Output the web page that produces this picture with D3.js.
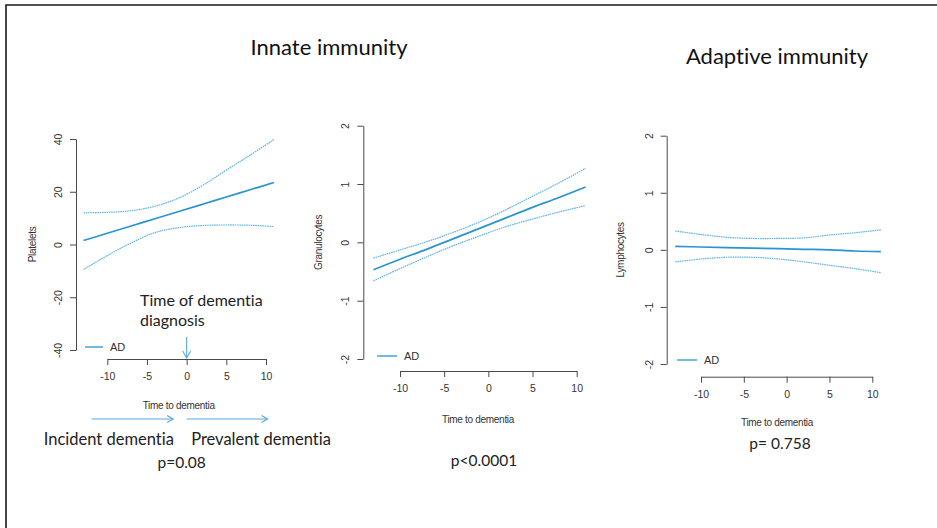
<!DOCTYPE html>
<html>
<head>
<meta charset="utf-8">
<script src="https://cdn.jsdelivr.net/npm/d3@7"></script>
<style>
  body { margin: 0; background: #fff; }
  svg { display: block; }
  .cal { font-variant-ligatures: none; font-feature-settings: "liga" 0, "clig" 0; }
</style>
</head>
<body>
<svg id="chart" width="937" height="528"></svg>
<script>
// ---- data -------------------------------------------------------------
const timeGrid = [-13, -10, -7, -4, -1, 2, 5, 8, 11];
const xTicks = [-10, -5, 0, 5, 10];
const plateletTicks = [-40, -20, 0, 20, 40];
const cellTicks = [-2, -1, 0, 1, 2];

const plateletFit   = [1.5, 4.25, 7.0, 9.75, 12.5, 15.25, 18.0, 20.75, 23.5];
const plateletUpper = [12.0, 12.2, 12.8, 14.5, 17.6, 22.4, 28.2, 33.9, 39.8];
const plateletLower = [-9.5, -4.2, 0.6, 4.5, 6.4, 7.2, 7.4, 7.3, 6.8];

const granuloFit   = [-0.47, -0.29, -0.12, 0.06, 0.24, 0.42, 0.60, 0.77, 0.95];
const granuloUpper = [-0.27, -0.13, 0.01, 0.17, 0.35, 0.56, 0.79, 1.02, 1.27];
const granuloLower = [-0.66, -0.45, -0.25, -0.06, 0.11, 0.27, 0.40, 0.52, 0.63];

const lymphoFit   = [0.06, 0.05, 0.04, 0.03, 0.02, 0.01, 0.0, -0.02, -0.03];
const lymphoUpper = [0.33, 0.27, 0.22, 0.20, 0.20, 0.21, 0.26, 0.30, 0.35];
const lymphoLower = [-0.21, -0.16, -0.13, -0.13, -0.16, -0.21, -0.27, -0.33, -0.40];

const yLabels = ["Platelets", "Granulocytes", "Lymphocytes"];
const pValues = ["p=0.08", "p<0.0001", "p= 0.758"];
const groupTitles = ["Innate immunity", "Adaptive immunity"];
const xLabel = "Time to dementia";
const legendLabel = "AD";

// ---- layout -----------------------------------------------------------
const panels = [
  { fit: plateletFit, up: plateletUpper, lo: plateletLower, yTicks: plateletTicks, label: yLabels[0], p: pValues[0],
    xr: [107.3, 266], yr: [350, 139], axisX: 76, axisY: 359, ylabX: 32, xlabX: 178.7, xlabY: 405,
    leg: { x1: 85, x2: 103, y: 347 }, pPos: { x: 181.7, y: 462 } },
  { fit: granuloFit, up: granuloUpper, lo: granuloLower, yTicks: cellTicks, label: yLabels[1], p: pValues[1],
    xr: [400, 576.7], yr: [359, 125.7], axisX: 363.3, axisY: 371, ylabX: 318, xlabX: 478, xlabY: 419,
    leg: { x1: 377, x2: 397, y: 356 }, pPos: { x: 484, y: 460 } },
  { fit: lymphoFit, up: lymphoUpper, lo: lymphoLower, yTicks: cellTicks, label: yLabels[2], p: pValues[2],
    xr: [701, 872.3], yr: [364, 135.7], axisX: 666.7, axisY: 376.7, ylabX: 620, xlabX: 777, xlabY: 422,
    leg: { x1: 677, x2: 697, y: 360 }, pPos: { x: 780, y: 443 } }
];

const fitColor = "#2a93d2";
const ciColor = "#62b3e4";
const axisColor = "#4a4a4a";
const textColor = "#333";
const rFont = "'Liberation Sans', Arial, sans-serif";
const calFont = "Lato, 'Open Sans', sans-serif";
const plain = d => String(d);

const svg = d3.select("#chart");
svg.append("rect").attr("width", 937).attr("height", 528).attr("fill", "#fff");

// frame (top and left edges)
svg.append("path").attr("d", "M6,528V5H937").attr("fill", "none")
  .attr("stroke", "#1a1a1a").attr("stroke-width", 1.6);

const panelScales = [];

panels.forEach(pn => {
  const x = d3.scaleLinear().domain([-10, 10]).range(pn.xr);
  const y = d3.scaleLinear().domain([d3.min(pn.yTicks), d3.max(pn.yTicks)]).range(pn.yr);
  panelScales.push({ x, y });
  const g = svg.append("g");

  // x axis
  const xa = g.append("g").attr("transform", `translate(0,${pn.axisY})`)
    .call(d3.axisBottom(x).tickValues(xTicks).tickFormat(plain).tickSize(6).tickSizeOuter(0).tickPadding(8));
  xa.selectAll("path,line").attr("stroke", axisColor);
  xa.selectAll("text").attr("font-family", rFont).attr("font-size", 10.5).attr("fill", textColor);

  // y axis with labels parallel to the axis
  const ya = g.append("g").attr("transform", `translate(${pn.axisX},0)`)
    .call(d3.axisLeft(y).tickValues(pn.yTicks).tickFormat(plain).tickSize(6).tickSizeOuter(0));
  ya.selectAll("path,line").attr("stroke", axisColor);
  ya.selectAll("text")
    .attr("x", null).attr("dy", null)
    .attr("text-anchor", "middle")
    .attr("dominant-baseline", "central")
    .attr("transform", "translate(-18,0) rotate(-90)")
    .attr("font-family", rFont).attr("font-size", 10.5).attr("fill", textColor);

  // axis titles
  g.append("text").attr("x", pn.xlabX).attr("y", pn.xlabY)
    .attr("text-anchor", "middle").attr("dominant-baseline", "central")
    .attr("font-family", rFont).attr("font-size", 10).attr("letter-spacing", -0.3)
    .attr("fill", textColor).text(xLabel);
  g.append("text")
    .attr("transform", `translate(${pn.ylabX},${y(0)}) rotate(-90)`)
    .attr("text-anchor", "middle").attr("dominant-baseline", "central")
    .attr("font-family", rFont).attr("font-size", 10).attr("letter-spacing", -0.3)
    .attr("fill", textColor).text(pn.label);

  // fitted trajectory with confidence band edges
  const line = d3.line().x((d, i) => x(timeGrid[i])).y(d => y(d)).curve(d3.curveCatmullRom.alpha(0.5));
  [pn.up, pn.lo].forEach(arr => {
    g.append("path").attr("d", line(arr)).attr("fill", "none")
      .attr("stroke", ciColor).attr("stroke-width", 1.2).attr("stroke-dasharray", "1.6,0.7");
  });
  g.append("path").attr("d", line(pn.fit)).attr("fill", "none")
    .attr("stroke", fitColor).attr("stroke-width", 1.7);

  // legend
  g.append("line").attr("x1", pn.leg.x1).attr("x2", pn.leg.x2).attr("y1", pn.leg.y).attr("y2", pn.leg.y)
    .attr("stroke", fitColor).attr("stroke-width", 1.3);
  g.append("text").attr("x", pn.leg.x2 + 7).attr("y", pn.leg.y)
    .attr("dominant-baseline", "central")
    .attr("font-family", rFont).attr("font-size", 11).attr("fill", textColor).text(legendLabel);

  // p-value
  svg.append("text").attr("class", "cal").attr("x", pn.pPos.x).attr("y", pn.pPos.y)
    .attr("text-anchor", "middle").attr("dominant-baseline", "central")
    .attr("font-family", calFont).attr("font-size", 15.5).attr("fill", "#222").text(pn.p);
});

// group titles
svg.append("text").attr("class", "cal").attr("x", 329).attr("y", 46).attr("text-anchor", "middle")
  .attr("dominant-baseline", "central").attr("font-family", calFont).attr("font-size", 22)
  .attr("fill", "#111").text(groupTitles[0]);
svg.append("text").attr("class", "cal").attr("x", 777).attr("y", 55).attr("text-anchor", "middle")
  .attr("dominant-baseline", "central").attr("font-family", calFont).attr("font-size", 22)
  .attr("fill", "#111").text(groupTitles[1]);

// diagnosis marker and incident/prevalent arrows on the platelet panel
const px = panelScales[0].x;
const arrowColor = "#5aa7db";
const ann = svg.append("g").attr("stroke", arrowColor).attr("stroke-width", 1.1).attr("fill", "none");
ann.append("line").attr("x1", px(0)).attr("x2", px(0)).attr("y1", 337).attr("y2", 358);
ann.append("path").attr("d", `M${px(0) - 4},351L${px(0)},358L${px(0) + 4},351`);

function hArrow(x1, x2, yy) {
  ann.append("line").attr("x1", x1).attr("x2", x2).attr("y1", yy).attr("y2", yy);
  ann.append("path").attr("d", `M${x2 - 6},${yy - 3.5}L${x2},${yy}L${x2 - 6},${yy + 3.5}`);
}
hArrow(px(-12), px(-1.7), 419);
hArrow(px(0), px(10.2), 419);

const noteText = svg.append("g").attr("class", "cal").attr("font-family", calFont).attr("font-size", 16).attr("fill", "#222");
noteText.append("text").attr("x", 140).attr("y", 306).text("Time of dementia");
noteText.append("text").attr("x", 140).attr("y", 325.5).text("diagnosis");
noteText.append("text").attr("x", 108.8).attr("y", 445).attr("font-size", 16.5).attr("text-anchor", "middle").text("Incident dementia");
noteText.append("text").attr("x", 261).attr("y", 445).attr("font-size", 16.5).attr("text-anchor", "middle").text("Prevalent dementia");
</script>
</body>
</html>
